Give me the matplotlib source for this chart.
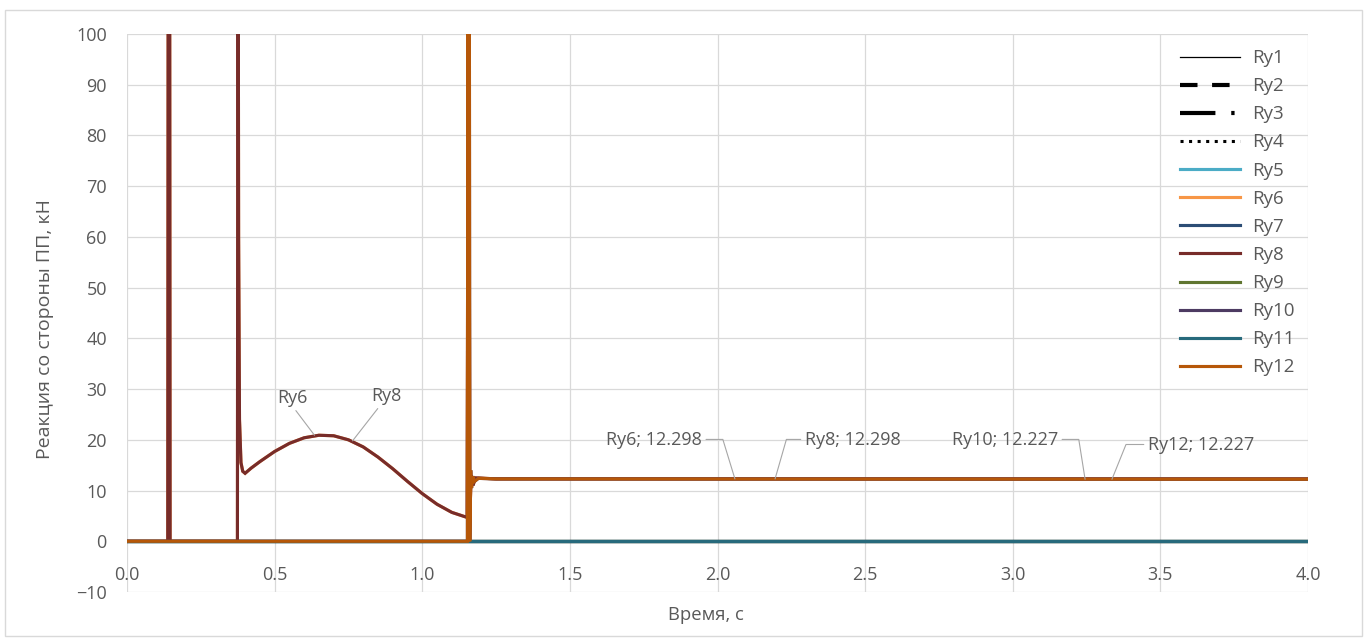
import numpy as np
import matplotlib
matplotlib.use('Agg')
import matplotlib.pyplot as plt
from matplotlib.patches import Rectangle
from matplotlib.lines import Line2D

plt.rcParams['font.family'] = ['Open Sans', 'DejaVu Sans']

# --- data ---
# series that stay at zero over the whole run
t_zero = [0.0, 4.0]
v_zero = [0.0, 0.0]

# Ry6 / Ry8 (front supports)
t_front = [0.0, 0.138, 0.140, 0.142, 0.144, 0.146, 0.374, 0.376, 0.378, 0.381,
           0.386, 0.392, 0.400, 0.42, 0.45, 0.50, 0.55, 0.60, 0.65, 0.70,
           0.75, 0.80, 0.85, 0.90, 0.95, 1.00, 1.05, 1.10, 1.152,
           1.157, 1.161, 1.166, 1.172, 1.180, 1.25, 4.0]
ry8 = [0.0, 0.0, 160.0, 0.0, 160.0, 0.0, 0.0, 160.0, 60.0, 24.0,
       15.5, 13.8, 13.4, 14.4, 15.7, 17.7, 19.3, 20.4, 20.9, 20.8,
       20.0, 18.6, 16.6, 14.3, 11.8, 9.4, 7.3, 5.7, 4.7,
       150.0, 5.0, 13.0, 11.0, 12.5, 12.3, 12.298]
ry6 = [0.0, 0.0, 160.0, 0.0, 160.0, 0.0, 0.0, 160.0, 60.0, 24.0,
       15.5, 13.8, 13.4, 14.4, 15.7, 17.7, 19.3, 20.4, 20.9, 20.8,
       20.0, 18.6, 16.6, 14.3, 11.8, 9.4, 7.3, 5.7, 4.7,
       150.0, 5.0, 13.0, 11.0, 12.5, 12.3, 12.298]

# Ry10 / Ry12 (rear supports)
t_rear = [0.0, 1.153, 1.155, 1.157, 1.159, 1.161, 1.164, 1.167, 1.171, 1.177, 1.19, 1.25, 4.0]
ry10 = [0.0, 0.0, 160.0, 0.0, 160.0, 0.0, 14.0, 10.5, 12.8, 11.8, 12.4, 12.3, 12.227]
ry12 = [0.0, 0.0, 160.0, 0.0, 160.0, 0.0, 14.0, 10.5, 12.8, 11.8, 12.4, 12.3, 12.227]

names = ['Ry1', 'Ry2', 'Ry3', 'Ry4', 'Ry5', 'Ry6', 'Ry7', 'Ry8', 'Ry9', 'Ry10', 'Ry11', 'Ry12']
colors = ['black', 'black', 'black', 'black', '#4BACC6', '#F79646',
          '#2C4D75', '#772C2A', '#5F7530', '#4D3B62', '#276A7C', '#B65708']

series = {
    'Ry1': (t_zero, v_zero), 'Ry2': (t_zero, v_zero), 'Ry3': (t_zero, v_zero),
    'Ry4': (t_zero, v_zero), 'Ry5': (t_zero, v_zero), 'Ry6': (t_front, ry6),
    'Ry7': (t_zero, v_zero), 'Ry8': (t_front, ry8), 'Ry9': (t_zero, v_zero),
    'Ry10': (t_rear, ry10), 'Ry11': (t_zero, v_zero), 'Ry12': (t_rear, ry12),
}

# line look per series (legend shows the black ones thicker)
styles = {
    'Ry1': dict(lw=0.9),
    'Ry2': dict(lw=3, dashes=(4.2, 3.5)),
    'Ry3': dict(lw=3, dashes=(8.5, 3.8, 0.8, 3.8)),
    'Ry4': dict(lw=2.2, dashes=(1, 1.8)),
}

gray = '#595959'
grid = '#D9D9D9'
fs = 13

fig = plt.figure(figsize=(13.68, 6.42), dpi=100)
ax = fig.add_axes([127 / 1368, 1 - 592 / 642, 1181 / 1368, 558 / 642])

# chart area border
fig.patches.append(Rectangle((5 / 1368, 6 / 642), 1357 / 1368, 626 / 642,
                             transform=fig.transFigure, fill=False,
                             edgecolor=grid, lw=1))

handles = []
for name, col in zip(names, colors):
    t, v = series[name]
    st = styles.get(name, dict(lw=2.25))
    # zero-line series drawn no wider than the coloured ones so they stay hidden
    ax.plot(t, v, color=col, lw=min(st['lw'], 2.25), solid_joinstyle='miter')
    handles.append(Line2D([], [], color=col, label=name, **st))

ax.set_xlim(0, 4)
ax.set_ylim(-10, 100)
ax.set_xticks(np.arange(0, 4.01, 0.5))
ax.set_xticklabels(['%.1f' % x for x in np.arange(0, 4.01, 0.5)])
ax.set_yticks(np.arange(-10, 101, 10))
ax.grid(True, color=grid, lw=0.9)
ax.set_axisbelow(True)
for s in ['top', 'right', 'left']:
    ax.spines[s].set_visible(False)
ax.spines['bottom'].set_position(('data', 0))
ax.spines['bottom'].set_color('none')
ax.tick_params(axis='x', length=0, pad=18, labelsize=fs, labelcolor=gray)
ax.tick_params(axis='y', length=0, pad=14.5, labelsize=fs, labelcolor=gray)

ax.set_xlabel('Время, с', fontsize=13.3, color=gray)
ax.xaxis.set_label_coords(0.49, -0.025)
ax.set_ylabel('Реакция со стороны ПП, кН', fontsize=14, color=gray)
ax.yaxis.set_label_coords(-0.062, 0.471)

leg = ax.legend(handles=handles, loc='upper left', bbox_to_anchor=(0.8916, 0.973),
                frameon=False, fontsize=13.5, labelcolor=gray, handlelength=3.2,
                handletextpad=0.64, labelspacing=0.54, borderpad=0, borderaxespad=0)

# data labels
lead = dict(arrowstyle='-', color='#A6A6A6', lw=0.8, shrinkA=1, shrinkB=0)
lab = dict(fontsize=fs, color=gray)
ax.annotate('Ry6', xy=(0.635, 20.9), xytext=(0.562, 28.3), ha='center', va='center',
            arrowprops=dict(lead, relpos=(0.5, 0)), **lab)
ax.annotate('Ry8', xy=(0.764, 19.8), xytext=(0.880, 28.7), ha='center', va='center',
            arrowprops=dict(lead, relpos=(0.3, 0)), **lab)
ax.annotate('Ry6; 12.298', xy=(2.059, 12.298), xytext=(1.947, 19.9), ha='right', va='center',
            arrowprops=dict(lead, relpos=(1, 0.55), connectionstyle='angle,angleA=0,angleB=107,rad=0'), **lab)
ax.annotate('Ry8; 12.298', xy=(2.195, 12.298), xytext=(2.296, 19.9), ha='left', va='center',
            arrowprops=dict(lead, relpos=(0, 0.55), connectionstyle='angle,angleA=0,angleB=74,rad=0'), **lab)
ax.annotate('Ry10; 12.227', xy=(3.245, 12.227), xytext=(3.153, 19.9), ha='right', va='center',
            arrowprops=dict(lead, relpos=(1, 0.55), connectionstyle='angle,angleA=0,angleB=99,rad=0'), **lab)
ax.annotate('Ry12; 12.227', xy=(3.336, 12.227), xytext=(3.458, 18.9), ha='left', va='center',
            arrowprops=dict(lead, relpos=(0, 0.55), connectionstyle='angle,angleA=0,angleB=68,rad=0'), **lab)

fig.savefig('out.png', dpi=100)
